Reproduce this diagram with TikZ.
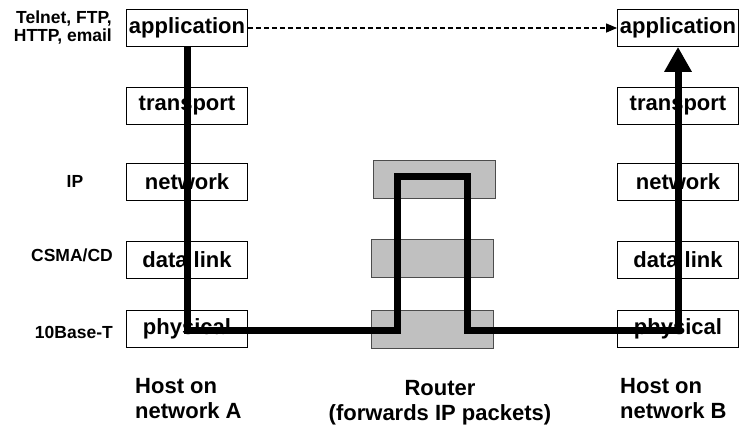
\documentclass[tikz,border=0pt]{standalone}
\usepackage{fontspec}
\setmainfont{Liberation Sans}
\usetikzlibrary{arrows.meta}
\definecolor{routergray}{RGB}{192,192,192}
\begin{document}
\begin{tikzpicture}[x=1bp,y=-1bp,
        layer/.style={draw,line width=0.8bp,inner sep=0pt,minimum width=121bp,
            minimum height=37bp,font=\fontsize{22bp}{25bp}\selectfont\bfseries},
        router/.style={draw=black!70,line width=0.8bp,fill=routergray,
            minimum width=122bp,minimum height=38bp},
        proto/.style={inner sep=0pt,font=\fontsize{17.5bp}{18bp}\selectfont\bfseries},
        caption/.style={inner sep=0pt,font=\fontsize{22bp}{25bp}\selectfont\bfseries},
        packet/.style={line width=7bp,line join=miter}]
    \useasboundingbox (0,0) rectangle (741,427);
    % host on network A
    \node[layer] (appA) at (187,28) {application};
    \node[layer] (transA) at (187,105.5) {transport};
    \node[layer] (netA) at (187,181.5) {network};
    \node[layer] (linkA) at (187,259.5) {data link};
    \node[layer] (physA) at (187,329) {physical};
    % router
    \node[router] (netR) at (434.5,179) {};
    \node[router] (linkR) at (432,258.5) {};
    \node[router] (physR) at (432,329) {};
    % host on network B
    \node[layer] (appB) at (678,28) {application};
    \node[layer] (transB) at (678,105.5) {transport};
    \node[layer] (netB) at (678,181.5) {network};
    \node[layer] (linkB) at (678,259.5) {data link};
    \node[layer] (physB) at (678,329) {physical};
    % protocols
    \node[proto,align=right,anchor=east] (appP) at (112,27.5) {Telnet, FTP,\\HTTP, email};
    \node[proto] (netP) at (75,181) {IP};
    \node[proto,anchor=east] (linkP) at (113,255.5) {CSMA/CD};
    \node[proto,anchor=east] (physP) at (113,332) {10Base-T};
    % captions
    \node[caption,align=left,anchor=north west] (hostA) at (135,378) {Host on\\network A};
    \node[caption,align=center,anchor=north] (routerC) at (440,380) {Router\\(forwards IP packets)};
    \node[caption,align=left,anchor=north west] (hostB) at (620,378) {Host on\\network B};
    % packet path
    \coordinate (inR) at (397,330);
    \coordinate (upR) at (397,176);
    \coordinate (overR) at (467,176);
    \coordinate (outR) at (467,330);
    \draw[packet,-{Triangle[width=26bp,length=25bp]}] (appA.south) |- (inR) -- (upR)
        -- (overR) -- (outR) -| (appB.south);
    \draw[line width=1.2bp,dash pattern=on 5bp off 3bp,
        -{Triangle[width=9bp,length=11bp]}] (appA.east) -- (appB.west);
\end{tikzpicture}
\end{document}
